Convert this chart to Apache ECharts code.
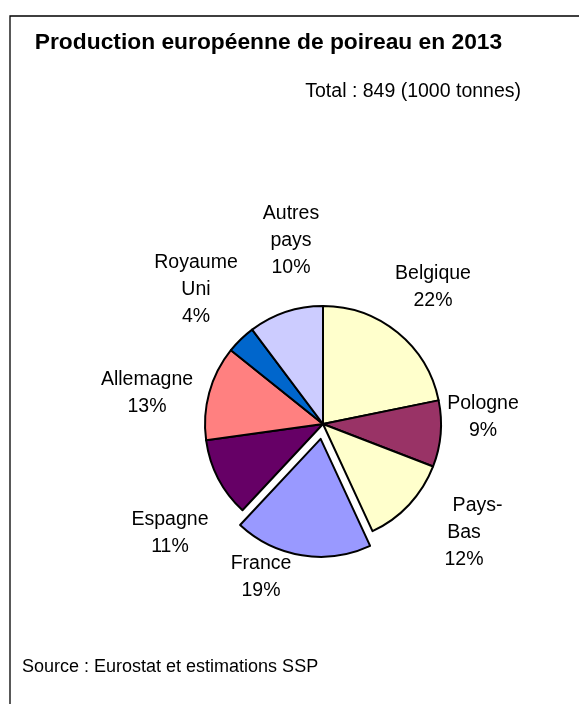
<!DOCTYPE html>
<html>
<head>
<meta charset="utf-8">
<script src="https://cdn.jsdelivr.net/npm/echarts@6/dist/echarts.min.js"></script>
<style>
html,body{margin:0;padding:0;background:#fff;}
#chart{width:579px;height:704px;}
</style>
</head>
<body>
<div id="chart"></div>
<script>
// Data (1000 tonnes), clockwise from 12 o'clock
var categories = ['Belgique', 'Pologne', 'Pays-Bas', 'France', 'Espagne', 'Allemagne', 'Royaume Uni', 'Autres pays'];
var values = [185, 77, 104, 160, 92, 110, 34, 87];
var colors = ['#FFFFCC', '#993366', '#FFFFCC', '#9999FF', '#660066', '#FF8080', '#0066CC', '#CCCCFF'];
var explodedCategory = 'France';
var titleText = 'Production européenne de poireau en 2013';
var subtitleText = 'Total : 849 (1000 tonnes)';
var sourceText = 'Source : Eurostat et estimations SSP';

// label anchor points (text placement only)
var labelPos = [[433, 287], [483, 417], [464, 533], [261, 577], [170, 533], [147, 393], [196, 290], [291, 241]];

var FONT = '"Liberation Sans", Arial, sans-serif';

function wrapName(n) {
  if (n === 'Pays-Bas') return '     Pays-\nBas';
  return n.replace(' ', '\n');
}

var chart = echarts.init(document.getElementById('chart'), null, {renderer: 'canvas'});
var pieData = categories.map(function (c, i) {
  return {
    name: c,
    value: values[i],
    selected: c === explodedCategory,
    itemStyle: {color: colors[i]}
  };
});
var labelData = categories.map(function (c, i) {
  return {name: c, value: values[i]};
});

chart.setOption({
  animation: false,
  backgroundColor: '#ffffff',
  graphic: [
    {type: 'rect', shape: {x: 10, y: 16, width: 700, height: 800}, style: {fill: 'none', stroke: '#000', lineWidth: 1.3}, z: 0},
    {type: 'text', x: 268.5, y: 43, style: {text: titleText, font: 'bold 22.8px ' + FONT, fill: '#000', textAlign: 'center', textVerticalAlign: 'middle'}},
    {type: 'text', x: 521, y: 92, style: {text: subtitleText, font: '19.5px ' + FONT, fill: '#000', textAlign: 'right', textVerticalAlign: 'middle'}},
    {type: 'text', x: 22, y: 667, style: {text: sourceText, font: '18px ' + FONT, fill: '#000', textAlign: 'left', textVerticalAlign: 'middle'}}
  ],
  series: [{
    type: 'pie',
    center: [323, 424],
    radius: 118,
    startAngle: 90,
    clockwise: true,
    selectedMode: 'single',
    selectedOffset: 15,
    emphasis: {disabled: true},
    itemStyle: {borderColor: '#000', borderWidth: 2},
    label: {show: false},
    labelLine: {show: false},
    data: pieData
  }, {
    type: 'pie',
    center: [323, 424],
    radius: 118,
    startAngle: 90,
    clockwise: true,
    silent: true,
    selectedMode: false,
    avoidLabelOverlap: false,
    emphasis: {disabled: true},
    itemStyle: {color: 'rgba(0,0,0,0)', borderWidth: 0},
    label: {
      show: true,
      position: 'outside',
      fontFamily: FONT,
      fontSize: 19.5,
      lineHeight: 27,
      color: '#000',
      align: 'center',
      formatter: function (p) {
        return wrapName(p.name) + '\n' + Math.round(p.percent) + '%';
      }
    },
    labelLine: {show: false},
    labelLayout: function (params) {
      var pt = labelPos[params.dataIndex];
      return {x: pt[0], y: pt[1], align: 'center', verticalAlign: 'middle'};
    },
    z: 3,
    data: labelData
  }]
});
</script>
</body>
</html>
